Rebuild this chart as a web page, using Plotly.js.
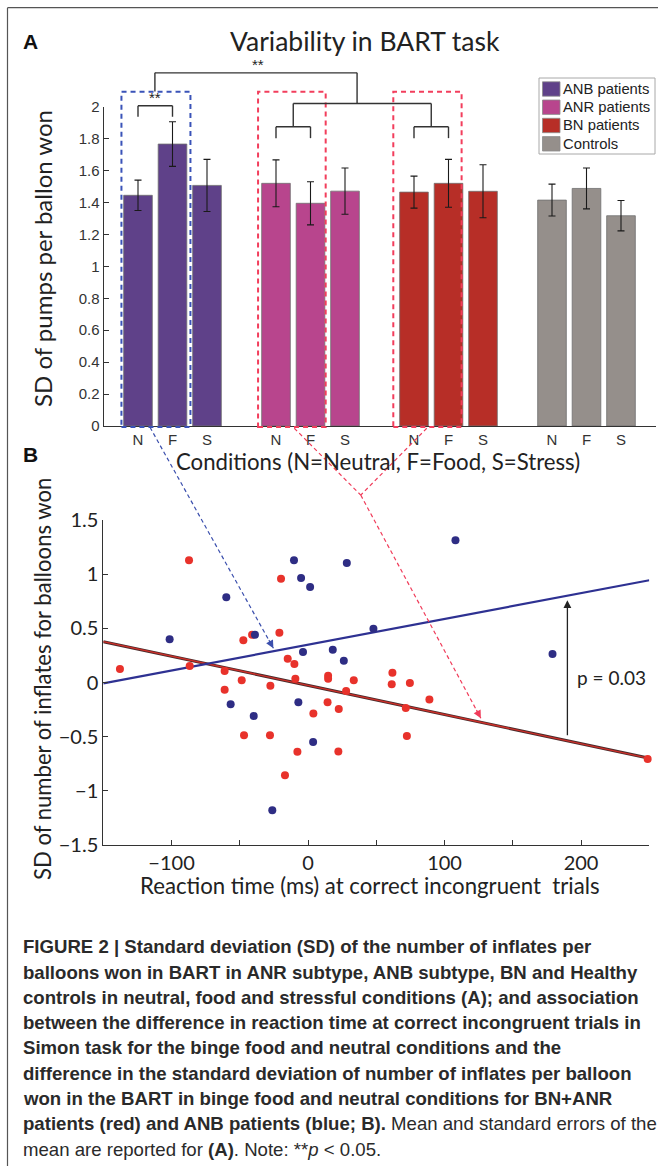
<!DOCTYPE html>
<html><head><meta charset="utf-8">
<script src="https://cdn.plot.ly/plotly-3.0.1.min.js"></script>
<style>html,body{margin:0;padding:0;background:#fff;overflow:hidden}#chart{display:block;width:658px;height:1166px}</style>
</head><body><div id="chart"></div>
<script>
// ---------- Panel A data ----------
const groups = ['ANB patients', 'ANR patients', 'BN patients', 'Controls'];
const conditions = ['N', 'F', 'S'];
const groupColors = ['#5f4189', '#b8458d', '#b72e27', '#958f8b'];
const anbMean = [1.445, 1.766, 1.507];
const anbErr = [0.095, 0.140, 0.163];
const anrMean = [1.520, 1.395, 1.471];
const anrErr = [0.147, 0.135, 0.145];
const bnMean = [1.465, 1.520, 1.470];
const bnErr = [0.100, 0.150, 0.166];
const ctrlMean = [1.415, 1.488, 1.317];
const ctrlErr = [0.100, 0.128, 0.095];
const yTicksA = [0, 0.2, 0.4, 0.6, 0.8, 1, 1.2, 1.4, 1.6, 1.8, 2];
const yTickTextA = ['0', '0.2', '0.4', '0.6', '0.8', '1', '1.2', '1.4', '1.6', '1.8', '2'];

// ---------- Panel B data ----------
const redX = [-137.8, -87.2, -86.7, -61.1, -61.1, -48.6, -47.4, -41.0, -46.9, -27.9, -27.6, -21.0, -19.8,
  -14.9, -10.0, -16.9, -9.3, -7.8, 3.9, 14.7, 14.7, 14.3, 22.5, 22.2, 27.9, 33.5, 61.8, 61.3, 74.6, 88.9,
  71.6, 72.4, 248.8];
const redY = [0.125, 1.128, 0.152, 0.106, -0.066, 0.020, 0.390, 0.440, -0.488, -0.488, -0.030, 0.460, 0.958,
  0.220, 0.171, -0.857, 0.035, -0.639, -0.285, 0.063, 0.035, -0.183, -0.245, -0.636, -0.078, 0.020, 0.090,
  -0.017, -0.005, -0.158, -0.235, -0.494, -0.706];
const blueX = [-101.4, -59.9, -56.7, -38.9, -39.8, -26.2, -10.3, -5.1, 1.5, -3.7, -7.1, 3.7, 28.4, 18.1,
  26.2, 47.9, 108.0, 179.1];
const blueY = [0.400, 0.787, -0.200, 0.440, -0.310, -1.180, 1.128, 0.965, 0.882, 0.282, -0.183, -0.549,
  1.103, 0.303, 0.201, 0.497, 1.313, 0.263];
const fitX = [-150, 250];
const blueFitY = [-0.008, 0.944];
const redFitY = [0.377, -0.700];
const xTicksB = [-150, -100, -50, 0, 50, 100, 150, 200, 250];
const xTickTextB = ['', '\u2212100', '', '0', '', '100', '', '200', ''];

// ---------- layout geometry ----------
const W = 658, H = 1166;
const domAx = [103.5 / W, 655.5 / W], domAy = [1 - 426 / H, 1 - 106.7 / H];
const domBx = [103.3 / W, 649.3 / W], domBy = [1 - 845 / H, 1 - 520 / H];
const rangeAx = [0, 16], rangeAy = [0, 2];
const rangeBx = [-150, 250], rangeBy = [-1.5, 1.5];
function pA(x, y) {
  return [domAx[0] + (x - rangeAx[0]) / (rangeAx[1] - rangeAx[0]) * (domAx[1] - domAx[0]),
          domAy[0] + (y - rangeAy[0]) / (rangeAy[1] - rangeAy[0]) * (domAy[1] - domAy[0])];
}
function pB(x, y) {
  return [domBx[0] + (x - rangeBx[0]) / (rangeBx[1] - rangeBx[0]) * (domBx[1] - domBx[0]),
          domBy[0] + (y - rangeBy[0]) / (rangeBy[1] - rangeBy[0]) * (domBy[1] - domBy[0])];
}
function px(x, y) { return [x / W, 1 - y / H]; }

const means = [anbMean, anrMean, bnMean, ctrlMean];
const errs = [anbErr, anrErr, bnErr, ctrlErr];
const posOf = (g, c) => g * 4 + c + 1;
const tickPos = [], tickTxt = [];
const traces = [];
groups.forEach((g, gi) => {
  const xs = conditions.map((c, ci) => posOf(gi, ci));
  xs.forEach((x, ci) => { tickPos.push(x); tickTxt.push(conditions[ci]); });
  traces.push({
    type: 'bar', name: g, x: xs, y: means[gi], xaxis: 'x', yaxis: 'y', width: 0.83, showlegend: false,
    marker: { color: groupColors[gi], line: { color: '#707070', width: 0.8 } },
    error_y: { type: 'data', array: errs[gi], visible: true, color: '#1a1a1a', thickness: 1.1, width: 3.5 }
  });
});

// Panel B traces
traces.push({ type: 'scatter', mode: 'lines', x: fitX, y: redFitY, xaxis: 'x2', yaxis: 'y2', showlegend: false,
  line: { color: '#4a2b2b', width: 3 } });
traces.push({ type: 'scatter', mode: 'lines', x: fitX, y: redFitY, xaxis: 'x2', yaxis: 'y2', showlegend: false,
  line: { color: '#cf2f29', width: 1.4 } });
traces.push({ type: 'scatter', mode: 'lines', x: fitX, y: blueFitY, xaxis: 'x2', yaxis: 'y2', showlegend: false,
  line: { color: '#2e3192', width: 2.2 } });
traces.push({ type: 'scatter', mode: 'markers', x: redX, y: redY, xaxis: 'x2', yaxis: 'y2', showlegend: false,
  cliponaxis: false, marker: { color: '#e8322b', size: 8 } });
traces.push({ type: 'scatter', mode: 'markers', x: blueX, y: blueY, xaxis: 'x2', yaxis: 'y2', showlegend: false,
  cliponaxis: false, marker: { color: '#2e2d84', size: 8 } });

// ---------- shapes ----------
const shapes = [];
function lineP(a, b, color, width, dash) {
  shapes.push({ type: 'line', xref: 'paper', yref: 'paper', x0: a[0], y0: a[1], x1: b[0], y1: b[1],
    line: { color: color, width: width, dash: dash || 'solid' } });
}
function rectP(a, b, color, width, dash, fill) {
  shapes.push({ type: 'rect', xref: 'paper', yref: 'paper', x0: a[0], y0: a[1], x1: b[0], y1: b[1],
    line: { color: color, width: width, dash: dash || 'solid' }, fillcolor: fill || 'rgba(0,0,0,0)' });
}
// outer frame (left and top edges)
lineP(px(7.5, 7.7), px(7.5, 1166), '#555', 1.2);
lineP(px(7.5, 7.7), px(658, 7.7), '#555', 1.2);
// dashed boxes
const boxTop = 2.093, boxBot = -0.006;
rectP(pA(0.52, boxBot), pA(2.52, boxTop), '#3a53b8', 2, '5px,4px');
rectP(pA(4.48, boxBot), pA(6.44, boxTop), '#f23e5c', 2, '5px,4px');
rectP(pA(8.40, boxBot), pA(10.38, boxTop), '#f23e5c', 2, '5px,4px');
// significance brackets
const bc = '#333', bw = 1.4;
function bracket(x0, x1, yTop, yLeg0, yLeg1) {
  lineP(pA(x0, yTop), pA(x1, yTop), bc, bw);
  lineP(pA(x0, yTop), pA(x0, yLeg0), bc, bw);
  lineP(pA(x1, yTop), pA(x1, yLeg1), bc, bw);
}
bracket(1, 2, 2.006, 1.937, 1.937);
bracket(1.49, 7.35, 2.212, 2.095, 2.02);
bracket(5.5, 9.5, 2.02, 1.874, 1.874);
bracket(5, 6, 1.874, 1.803, 1.803);
bracket(9, 10, 1.874, 1.803, 1.803);
// dashed connectors between panels
const blueStart = pA(1.348, -0.008), blueEnd = pB(-25.4, 0.316);
lineP(blueStart, blueEnd, '#3b4fad', 1.2, '4px,3px');
const redS1 = pA(5.53, -0.014), redS2 = pA(9.37, -0.014), redV = pB(38.6, 1.73), redEnd = pB(126.6, -0.33);
lineP(redS1, redV, '#f03c5a', 1.2, '4px,3px');
lineP(redS2, redV, '#f03c5a', 1.2, '4px,3px');
lineP(redV, redEnd, '#f03c5a', 1.2, '4px,3px');

// ---------- annotations ----------
const ann = [];
function arrowHead(from, to, color) {
  const dx = (to[0] - from[0]) * W, dy = (to[1] - from[1]) * H;
  const L = Math.hypot(dx, dy);
  ann.push({ xref: 'paper', yref: 'paper', x: to[0], y: to[1], text: '', showarrow: true,
    ax: -dx / L * 11, ay: dy / L * 11, arrowhead: 2, arrowsize: 1.3, arrowwidth: 1.2, arrowcolor: color });
}
arrowHead(blueStart, blueEnd, '#3b4fad');
arrowHead(redV, redEnd, '#f03c5a');
function txt(p, text, size, family, opts) {
  ann.push(Object.assign({ xref: 'paper', yref: 'paper', x: p[0], y: p[1], text: text, showarrow: false,
    xanchor: 'center', yanchor: 'middle', font: { size: size, family: family, color: '#222' } }, opts || {}));
}
const SANS = 'Lato, sans-serif';
const ARIAL = '"Liberation Sans", Arial, sans-serif';
txt(px(30, 42), '<b>A</b>', 21, ARIAL, { font: { size: 21, family: ARIAL, color: '#111' } });
txt(px(30, 455), '<b>B</b>', 21, ARIAL, { font: { size: 21, family: ARIAL, color: '#111' } });
txt(px(365, 41), 'Variability in BART task', 26.5, SANS);
txt(px(42, 259), 'SD of pumps per ballon won', 24, SANS, { textangle: -90 });
txt(px(378, 461), 'Conditions (N=Neutral, F=Food, S=Stress)', 22.2, SANS);
txt(pA(1.5, 2.055), '**', 15, ARIAL);
txt(pA(4.48, 2.265), '**', 15, ARIAL);
txt(px(42, 679), 'SD of number of inflates for balloons won', 22.1, SANS, { textangle: -90 });
txt(px(370, 885), 'Reaction time (ms) at correct incongruent&nbsp; trials', 22.2, SANS);
txt(pB(195.8, 0.05), 'p = 0.03', 19, SANS, { xanchor: 'left' });
ann.push({ xref: 'x2', yref: 'y2', axref: 'x2', ayref: 'y2', x: 190, y: 0.76, ax: 190, ay: -0.5, text: '',
  showarrow: true, arrowhead: 2, arrowsize: 1.2, arrowwidth: 1.3, arrowcolor: '#222' });

// legend (box, swatches, labels)
rectP(px(539, 78), px(655, 154), '#a8a8a8', 1, 'solid', '#ffffff');
const legRowY = [89, 107.2, 125.5, 143.8];
groups.forEach((g, gi) => {
  const yc = legRowY[gi];
  rectP(px(542.5, yc - 7.2), px(560, yc + 7.2), '#8a8a8a', 0.8, 'solid', groupColors[gi]);
  txt(px(560.5, yc), g, 14.8, ARIAL, { xanchor: 'left' });
});

// caption
const CAP = '"Liberation Sans", Arial, sans-serif';
const capLines = [
  '<b>FIGURE 2 | Standard deviation (SD) of the number of inflates per</b>',
  '<b>balloons won in BART in ANR subtype, ANB subtype, BN and Healthy</b>',
  '<b>controls in neutral, food and stressful conditions (A); and association</b>',
  '<b>between the difference in reaction time at correct incongruent trials in</b>',
  '<b>Simon task for the binge food and neutral conditions and the</b>',
  '<b>difference in the standard deviation of number of inflates per balloon</b>',
  '<b>won in the BART in binge food and neutral conditions for BN+ANR</b>',
  '<b>patients (red) and ANB patients (blue; B).</b> Mean and standard errors of the',
  'mean are reported for <b>(A)</b>. Note: **<i>p</i> &lt; 0.05.'
];
const capY = [946.7, 972, 997.3, 1022.6, 1047.9, 1073.2, 1098.5, 1123.8, 1149.1];
capLines.forEach((t, i) => {
  ann.push({ xref: 'paper', yref: 'paper', x: 21 / W, y: 1 - capY[i] / H, text: t, showarrow: false,
    xanchor: 'left', yanchor: 'middle', font: { size: 18.6, family: CAP, color: '#2a2a2a' } });
});

const layout = {
  width: W, height: H, autosize: false, margin: { l: 0, r: 0, t: 0, b: 0 },
  paper_bgcolor: '#fff', plot_bgcolor: 'rgba(0,0,0,0)', bargap: 0,
  showlegend: false,
  xaxis: { domain: domAx, range: rangeAx, anchor: 'y', showline: true, linecolor: '#333', linewidth: 1,
    tickvals: tickPos, ticktext: tickTxt, ticks: '', showgrid: false, zeroline: false,
    tickfont: { size: 15, family: ARIAL, color: '#333' } },
  yaxis: { domain: domAy, range: rangeAy, anchor: 'x', showline: true, linecolor: '#333', linewidth: 1,
    tickvals: yTicksA, ticktext: yTickTextA, ticks: 'inside', ticklen: 5, tickcolor: '#333',
    showgrid: false, zeroline: false, tickfont: { size: 15, family: ARIAL, color: '#333' } },
  xaxis2: { domain: domBx, range: rangeBx, anchor: 'y2', showline: true, linecolor: '#333', linewidth: 1,
    tickvals: xTicksB, ticktext: xTickTextB, ticks: 'inside', ticklen: 5, tickcolor: '#333',
    showgrid: false, zeroline: false, tickfont: { size: 20, family: SANS, color: '#222' } },
  yaxis2: { domain: domBy, range: rangeBy, anchor: 'x2', showline: true, linecolor: '#333', linewidth: 1,
    dtick: 0.5, tick0: 0, ticks: 'inside', ticklen: 5, tickcolor: '#333', showgrid: false, zeroline: false,
    tickfont: { size: 20, family: SANS, color: '#222' } },
  shapes: shapes, annotations: ann
};
Plotly.newPlot('chart', traces, layout, { staticPlot: true, displayModeBar: false });
</script></body></html>
